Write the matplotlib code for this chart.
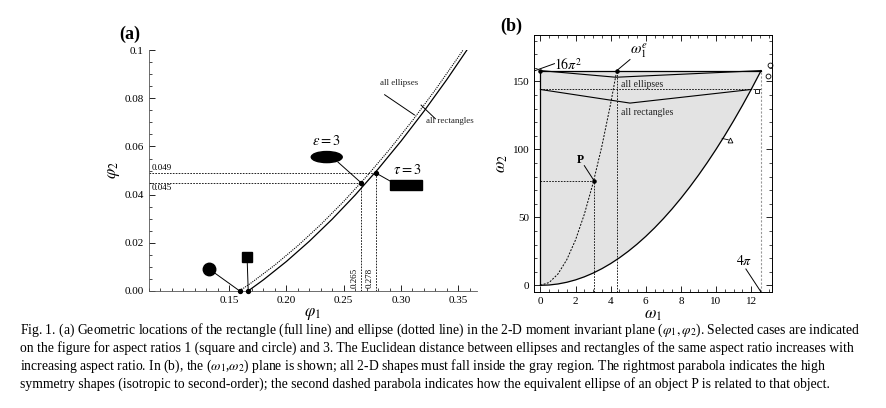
import matplotlib
matplotlib.use("Agg")
import matplotlib.pyplot as plt
from matplotlib.patches import Ellipse, Rectangle
from matplotlib.ticker import MultipleLocator

plt.rcParams['font.family'] = ['Liberation Serif', 'DejaVu Serif']
plt.rcParams['mathtext.fontset'] = 'stix'

# ---- panel (a) data ----
rect_phi1 = [0.1667, 0.18, 0.20, 0.22, 0.24, 0.26, 0.28, 0.30, 0.32, 0.34, 0.36]
rect_phi2 = [0.0, 0.00462, 0.01222, 0.02062, 0.02982, 0.03982, 0.05062, 0.06222, 0.07462, 0.08782, 0.10182]
ell_phi1 = [0.1592, 0.17, 0.19, 0.21, 0.23, 0.25, 0.27, 0.29, 0.31, 0.33, 0.35, 0.36]
ell_phi2 = [0.0, 0.00357, 0.01077, 0.01877, 0.02757, 0.03717, 0.04757, 0.05877, 0.07077, 0.08357, 0.09717, 0.10427]
sel_phi1 = [0.1592, 0.1667, 0.265, 0.278]
sel_phi2 = [0.0, 0.0, 0.045, 0.049]
a_xticks = [0.15, 0.20, 0.25, 0.30, 0.35]
a_yticks = [0.0, 0.02, 0.04, 0.06, 0.08, 0.1]
a_yticklabels = ["0.00", "0.02", "0.04", "0.06", "0.08", "0.1"]

# ---- panel (b) data ----
par_w1 = [0, 0.5, 1, 1.5, 2, 2.5, 3, 3.5, 4, 4.5, 5, 5.5, 6, 6.5, 7, 7.5, 8, 8.5, 9, 9.5, 10, 10.5, 11, 11.5, 12, 12.566]
par_w2 = [0, 0.25, 1, 2.25, 4, 6.25, 9, 12.25, 16, 20.25, 25, 30.25, 36, 42.25, 49, 56.25, 64, 72.25, 81, 90.25, 100, 110.25, 121, 132.25, 144, 157.9]
eqp_w1 = [0, 0.5, 1, 1.5, 2, 2.5, 3, 3.5, 4, 4.35]
eqp_w2 = [0, 2.09, 8.35, 18.8, 33.4, 52.2, 75.2, 102.3, 133.6, 158]
ells_w1 = [0, 4.3, 12.566]
ells_w2 = [157.9, 153, 157.9]
rects_w1 = [0, 5.1, 12.0]
rects_w2 = [144, 134, 144]
P = (3.05, 77)
w1e = 4.35
b_xticks = [0, 2, 4, 6, 8, 10, 12]
b_yticks = [0, 50, 100, 150]

fig = plt.figure(figsize=(8.86, 4.08), dpi=100)
dash = (0, (2, 1.5))

# ================= (a) =================
ax = fig.add_axes([0.168, 0.287, 0.370, 0.590])
ax.plot(rect_phi1, rect_phi2, color='black', lw=0.9)
ax.plot(ell_phi1, ell_phi2, color='black', lw=0.8, ls=(0, (1, 1)))
ax.set_xlim(0.08, 0.366)
ax.set_ylim(0, 0.1)
for s in ['top', 'right']:
    ax.spines[s].set_visible(False)
for s in ['left', 'bottom']:
    ax.spines[s].set_linewidth(0.6)
    ax.spines[s].set_color('#555555')
ax.set_xticks(a_xticks)
ax.set_xticklabels(["%.2f" % v for v in a_xticks])
ax.set_yticks(a_yticks)
ax.set_yticklabels(a_yticklabels)
ax.xaxis.set_minor_locator(MultipleLocator(0.01))
ax.yaxis.set_minor_locator(MultipleLocator(0.005))
ax.tick_params(labelsize=8, length=4, width=0.6, direction='in')
ax.tick_params(which='minor', length=2, width=0.5, direction='in')
ax.set_xlabel(r'$\varphi_1$', fontsize=12, labelpad=1)
ax.set_ylabel(r'$\varphi_2$', fontsize=12, labelpad=2)

ax.plot([0.08, sel_phi1[3]], [sel_phi2[3]] * 2, color='black', lw=0.6, ls=dash)
ax.plot([0.08, sel_phi1[2]], [sel_phi2[2]] * 2, color='black', lw=0.6, ls=dash)
ax.plot([sel_phi1[2]] * 2, [0, sel_phi2[2]], color='black', lw=0.6, ls=dash)
ax.plot([sel_phi1[3]] * 2, [0, sel_phi2[3]], color='black', lw=0.6, ls=dash)
ax.text(0.082, 0.0495, "0.049", fontsize=6.5, va='bottom')
ax.text(0.082, 0.0445, "0.045", fontsize=6.5, va='top')
ax.text(sel_phi1[2] - 0.002, 0.001, "0.265", fontsize=6.5, rotation=90, ha='right', va='bottom')
ax.text(sel_phi1[3] - 0.002, 0.001, "0.278", fontsize=6.5, rotation=90, ha='right', va='bottom')
ax.scatter(sel_phi1, sel_phi2, s=8, color='black', zorder=5, clip_on=False)

ax.add_patch(Ellipse((0.2352, 0.0556), 0.027, 0.0046, color='black', clip_on=False))
ax.add_patch(Rectangle((0.290, 0.0419), 0.028, 0.0042, color='black', clip_on=False))
ax.plot([0.1326], [0.0091], marker='o', ms=9, color='black', clip_on=False)
ax.plot([0.1657], [0.0141], marker='s', ms=6.5, color='black', clip_on=False)
ax.plot([0.1326, sel_phi1[0]], [0.0091, 0], color='black', lw=0.7)
ax.plot([0.1657, sel_phi1[1]], [0.0141, 0], color='black', lw=0.7)
ax.plot([0.245, sel_phi1[2]], [0.0535, sel_phi2[2]], color='black', lw=0.7)
ax.plot([0.291, sel_phi1[3]], [0.0455, sel_phi2[3]], color='black', lw=0.7)
ax.text(0.2352, 0.0595, r'$\epsilon = 3$', fontsize=10.5, ha='center', va='bottom')
ax.text(0.293, 0.0475, r'$\tau = 3$', fontsize=10.5, ha='left', va='bottom')
ax.text(0.282, 0.0845, "all ellipses", fontsize=6.5, va='bottom', color='#222222')
ax.plot([0.2857, 0.3117], [0.0815, 0.0731], color='black', lw=0.7)
ax.text(0.322, 0.0705, "all rectangles", fontsize=6.5, va='center', color='#222222')
ax.plot([0.3175, 0.330], [0.0772, 0.0715], color='black', lw=0.7)
fig.text(0.135, 0.905, "(a)", fontsize=13, fontweight='bold')

# ================= (b) =================
bx = fig.add_axes([0.603, 0.284, 0.2686, 0.630])
bx.fill_between(par_w1, par_w2, 157.9, color='#e3e3e3', lw=0)
bx.plot(par_w1, par_w2, color='black', lw=0.9)
bx.plot([0, 12.566], [157.9, 157.9], color='black', lw=0.9)
bx.plot([0, 0], [0, 157.9], color='black', lw=0.9)
bx.plot(ells_w1, ells_w2, color='black', lw=0.8)
bx.plot(rects_w1, rects_w2, color='black', lw=0.8)
bx.plot([0, 12.566], [144, 144], color='black', lw=0.6, ls=dash)
bx.plot(eqp_w1, eqp_w2, color='black', lw=0.7, ls=dash)
bx.plot([P[0], P[0]], [-5, P[1]], color='black', lw=0.6, ls=dash)
bx.plot([0, P[0]], [P[1], P[1]], color='black', lw=0.6, ls=dash)
bx.plot([w1e, w1e], [-5, 157.9], color='black', lw=0.6, ls=dash)
bx.plot([12.566, 12.566], [-5, 157.9], color='#999999', lw=0.8, ls=dash)
bx.scatter([P[0], w1e, 0], [P[1], 157.9, 157.9], s=5, color='black', zorder=5, clip_on=False)
bx.plot([P[0], 2.5], [P[1], 88], color='black', lw=0.7)
bx.text(2.3, 88, "P", fontsize=8.5, fontweight='bold', ha='center', va='bottom')
bx.plot([-0.3, 0.8], [157.9, 163], color='black', lw=0.7)
bx.text(0.8, 162, r'$16\pi^2$', fontsize=10, va='center')
bx.plot([w1e, 5.1], [157.9, 166], color='black', lw=0.7)
bx.text(5.1, 166, r'$\omega_1^e$', fontsize=11, va='bottom')
bx.plot([12.566, 11.7], [-5, 12], color='black', lw=0.7)
bx.text(11.6, 13, r'$4\pi$', fontsize=10, ha='center', va='bottom')
bx.text(4.6, 148, "all ellipses", fontsize=7, va='center', color='#222222')
bx.text(4.6, 127, "all rectangles", fontsize=7, va='center', color='#222222')
bx.plot([10.8], [107], marker='^', ms=3.5, mfc='white', mec='black', mew=0.6)
bx.plot([10.35, 10.7], [108, 107], color='black', lw=0.6)
bx.plot([12.35], [143], marker='s', ms=3, mfc='white', mec='black', mew=0.6, clip_on=False)
bx.plot([12.95], [154], marker='o', ms=3.5, mfc='white', mec='black', mew=0.6, clip_on=False)
bx.plot([13.05], [162], marker='o', ms=3.5, mfc='white', mec='black', mew=0.6, clip_on=False)
bx.set_xlim(-0.35, 13.2)
bx.set_ylim(-5, 184)
bx.set_xticks(b_xticks)
bx.set_yticks(b_yticks)
bx.xaxis.set_minor_locator(MultipleLocator(0.5))
bx.yaxis.set_minor_locator(MultipleLocator(10))
bx.tick_params(labelsize=8, length=4, width=0.6, direction='in', top=True, right=True)
bx.tick_params(which='minor', length=2, width=0.5, direction='in', top=True, right=True)
for s in bx.spines.values():
    s.set_linewidth(0.7)
bx.set_xlabel(r'$\omega_1$', fontsize=12, labelpad=1)
bx.set_ylabel(r'$\omega_2$', fontsize=12, labelpad=2)
fig.text(0.565, 0.925, "(b)", fontsize=13, fontweight='bold')

# ================= caption =================
caption = [
    "Fig. 1. (a) Geometric locations of the rectangle (full line) and ellipse (dotted line) in the 2-D moment invariant plane ($\\varphi_1, \\varphi_2$). Selected cases are indicated",
    "on the figure for aspect ratios 1 (square and circle) and 3. The Euclidean distance between ellipses and rectangles of the same aspect ratio increases with",
    "increasing aspect ratio. In (b), the ($\\omega_1$,$\\omega_2$) plane is shown; all 2-D shapes must fall inside the gray region. The rightmost parabola indicates the high",
    "symmetry shapes (isotropic to second-order); the second dashed parabola indicates how the equivalent ellipse of an object P is related to that object.",
]
ys = [330, 348, 366, 384]
for line, y in zip(caption, ys):
    fig.text(20 / 886, 1 - y / 408, line, fontsize=9.8, va='center', ha='left')

fig.savefig("out.png", dpi=100)
